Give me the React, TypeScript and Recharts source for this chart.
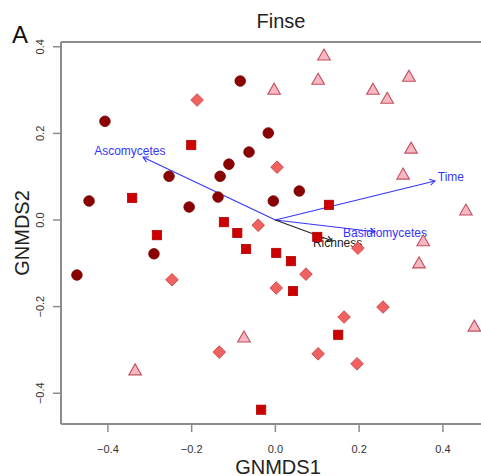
import { ScatterChart, Scatter, XAxis, YAxis, ReferenceLine } from 'recharts'

// NMDS site scores, one array per sample group
const groupCircles = [
    { x: -0.407, y: 0.228 }, { x: -0.445, y: 0.044 }, { x: -0.474, y: -0.127 },
    { x: -0.254, y: 0.101 }, { x: -0.206, y: 0.03 }, { x: -0.29, y: -0.078 },
    { x: -0.111, y: 0.129 }, { x: -0.132, y: 0.101 }, { x: -0.137, y: 0.053 },
    { x: -0.084, y: 0.321 }, { x: -0.063, y: 0.157 }, { x: -0.017, y: 0.201 },
    { x: -0.005, y: 0.044 }, { x: 0.057, y: 0.067 },
]

const groupSquares = [
    { x: -0.201, y: 0.173 }, { x: -0.342, y: 0.051 }, { x: -0.283, y: -0.035 },
    { x: -0.123, y: -0.005 }, { x: -0.091, y: -0.03 }, { x: -0.07, y: -0.067 },
    { x: 0.002, y: -0.076 }, { x: 0.037, y: -0.095 }, { x: 0.042, y: -0.164 },
    { x: 0.128, y: 0.035 }, { x: 0.1, y: -0.039 }, { x: 0.15, y: -0.265 },
    { x: -0.034, y: -0.438 },
]

const groupDiamonds = [
    { x: -0.187, y: 0.277 }, { x: 0.004, y: 0.122 }, { x: -0.041, y: -0.012 },
    { x: -0.247, y: -0.138 }, { x: 0.073, y: -0.125 }, { x: 0.002, y: -0.157 },
    { x: 0.197, y: -0.065 }, { x: 0.164, y: -0.224 }, { x: 0.257, y: -0.201 },
    { x: -0.134, y: -0.305 }, { x: 0.102, y: -0.309 }, { x: 0.195, y: -0.332 },
]

const groupTriangles = [
    { x: 0.116, y: 0.381 }, { x: 0.102, y: 0.325 }, { x: -0.003, y: 0.302 },
    { x: 0.233, y: 0.302 }, { x: 0.267, y: 0.281 }, { x: 0.319, y: 0.332 },
    { x: 0.324, y: 0.166 }, { x: 0.305, y: 0.106 }, { x: 0.455, y: 0.023 },
    { x: 0.353, y: -0.048 }, { x: 0.343, y: -0.099 }, { x: 0.475, y: -0.245 },
    { x: -0.075, y: -0.27 }, { x: -0.335, y: -0.346 },
]

// fitted vectors (envfit style), labels sit at 1.1x the arrow tip
const vectors = [
    { name: 'Ascomycetes', x: -0.316, y: 0.145, color: '#3535ff' },
    { name: 'Time', x: 0.381, y: 0.09, color: '#3535ff' },
    { name: 'Basidiomycetes', x: 0.238, y: -0.027, color: '#3535ff' },
    { name: 'Richness', x: 0.135, y: -0.048, color: '#222222' },
]

const xTicks = [-0.4, -0.2, 0, 0.2, 0.4]
const yTicks = [-0.4, -0.2, 0, 0.2, 0.4]
const xDomain = [-0.512, 0.491]
const yDomain = [-0.471, 0.411]

const FONT = '"Liberation Sans", Arial, Helvetica, sans-serif'
const FRAME = '#8c8c8c'

const fmt = (v: number) => (v < 0 ? '\u2212' : '') + Math.abs(v).toFixed(1)

const CircleDot = (p: any) => (
    <circle cx={p.cx} cy={p.cy} r={5.3} fill="#8B0000" stroke="#760000" strokeWidth={0.8} />
)
const SquareDot = (p: any) => (
    <rect x={p.cx - 4.6} y={p.cy - 4.6} width={9.2} height={9.2} fill="#CC0000" stroke="#b00000" strokeWidth={0.8} />
)
const DiamondDot = (p: any) => (
    <polygon
        points={`${p.cx},${p.cy - 6.3} ${p.cx + 6.3},${p.cy} ${p.cx},${p.cy + 6.3} ${p.cx - 6.3},${p.cy}`}
        fill="#F06262"
        stroke="#C84444"
        strokeWidth={0.9}
    />
)
const TriangleDot = (p: any) => (
    <polygon
        points={`${p.cx},${p.cy - 6} ${p.cx + 6.3},${p.cy + 5} ${p.cx - 6.3},${p.cy + 5}`}
        fill="#F7B7C3"
        stroke="#C2505E"
        strokeWidth={1.1}
    />
)

const arrowShape = (name: string, color: string) => (p: any) => {
    const { x1, y1, x2, y2 } = p
    const ang = Math.atan2(y2 - y1, x2 - x1)
    const head = 6
    const hx1 = x2 - head * Math.cos(ang - Math.PI / 6)
    const hy1 = y2 - head * Math.sin(ang - Math.PI / 6)
    const hx2 = x2 - head * Math.cos(ang + Math.PI / 6)
    const hy2 = y2 - head * Math.sin(ang + Math.PI / 6)
    const lx = x1 + (x2 - x1) * 1.1
    const ly = y1 + (y2 - y1) * 1.1
    return (
        <g>
            <line x1={x1} y1={y1} x2={x2} y2={y2} stroke={color} strokeWidth={1.1} />
            <polyline points={`${hx1},${hy1} ${x2},${y2} ${hx2},${hy2}`} fill="none" stroke={color} strokeWidth={1.1} />
            <text x={lx} y={ly} dy="0.35em" textAnchor="middle" fontSize={12} fontFamily={FONT} fill={color}>
                {name}
            </text>
        </g>
    )
}

const XTick = (p: any) => (
    <text x={p.x} y={p.y + 19} textAnchor="middle" fontSize={11} fontFamily={FONT} fill="#333">
        {fmt(p.payload.value)}
    </text>
)

const YTick = (p: any) => {
    const tx = p.x - 7
    return (
        <text
            x={tx}
            y={p.y}
            textAnchor="middle"
            fontSize={11}
            fontFamily={FONT}
            fill="#333"
            transform={`rotate(-90 ${tx} ${p.y})`}
        >
            {fmt(p.payload.value)}
        </text>
    )
}

export default function App() {
    return (
        <div style={{ position: 'absolute', left: 0, top: 0, width: 481, height: 476, background: '#fff' }}>
            <ScatterChart width={481} height={476} margin={{ top: 42, right: 0, bottom: 0, left: 0 }}>
                <XAxis
                    type="number"
                    dataKey="x"
                    domain={xDomain}
                    ticks={xTicks}
                    allowDataOverflow
                    height={52}
                    tickSize={8}
                    axisLine={{ stroke: FRAME, strokeWidth: 2 }}
                    tickLine={{ stroke: FRAME, strokeWidth: 1.5 }}
                    tick={XTick}
                />
                <YAxis
                    type="number"
                    dataKey="y"
                    domain={yDomain}
                    ticks={yTicks}
                    allowDataOverflow
                    width={61}
                    tickSize={8}
                    axisLine={{ stroke: FRAME, strokeWidth: 2 }}
                    tickLine={{ stroke: FRAME, strokeWidth: 1.5 }}
                    tick={YTick}
                />
                <ReferenceLine y={yDomain[1]} stroke={FRAME} strokeWidth={2} />
                <Scatter data={groupCircles} shape={CircleDot} isAnimationActive={false} />
                <Scatter data={groupSquares} shape={SquareDot} isAnimationActive={false} />
                <Scatter data={groupDiamonds} shape={DiamondDot} isAnimationActive={false} />
                <Scatter data={groupTriangles} shape={TriangleDot} isAnimationActive={false} />
                {vectors.map((v) => (
                    <ReferenceLine
                        key={v.name}
                        segment={[{ x: 0, y: 0 }, { x: v.x, y: v.y }]}
                        shape={arrowShape(v.name, v.color)}
                    />
                ))}
            </ScatterChart>
            <svg
                width={481}
                height={476}
                style={{ position: 'absolute', left: 0, top: 0, pointerEvents: 'none' }}
                fontFamily={FONT}
            >
                <text x={12} y={43} fontSize={24} fill="#111">A</text>
                <text x={281} y={28} fontSize={20} textAnchor="middle" fill="#222">Finse</text>
                <text x={278} y={474} fontSize={20} textAnchor="middle" fill="#222">GNMDS1</text>
                <text x={29} y={233} fontSize={20} textAnchor="middle" fill="#222" transform="rotate(-90 29 233)">
                    GNMDS2
                </text>
            </svg>
        </div>
    )
}
